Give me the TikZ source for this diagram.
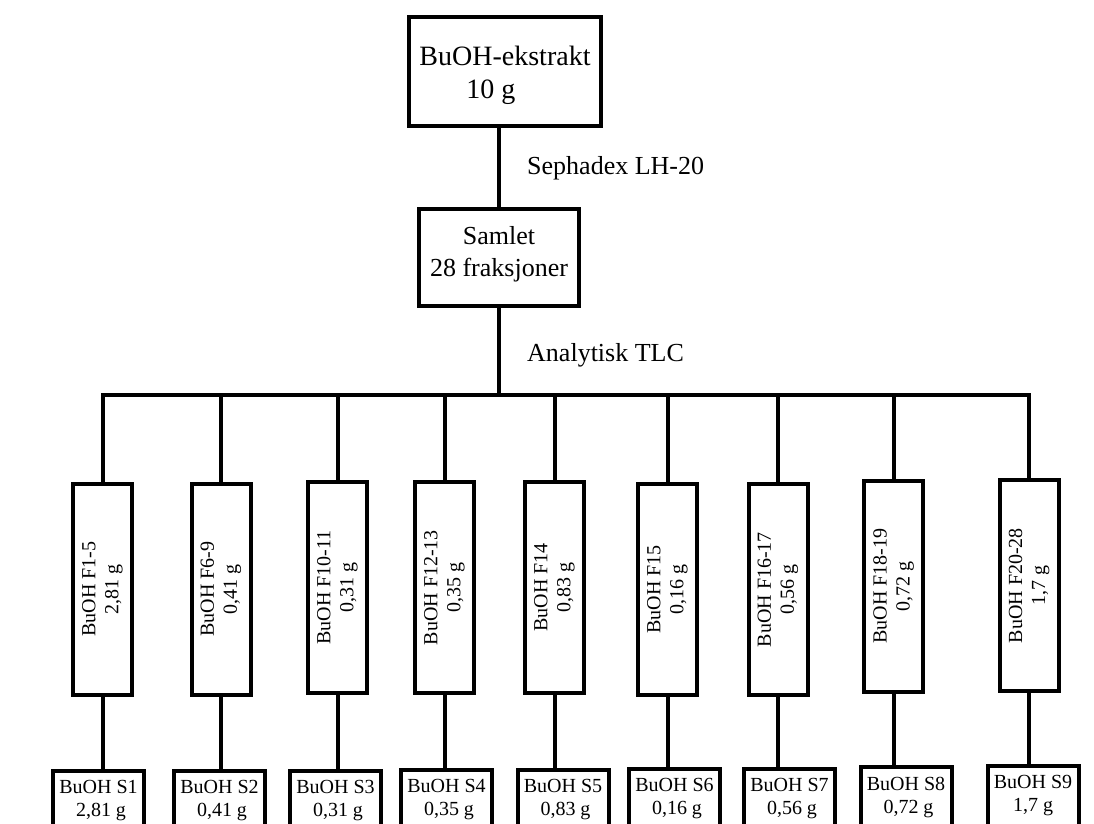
\documentclass[tikz,border=0pt]{standalone}
\usepackage{fontspec}
\setmainfont{Liberation Serif}
\begin{document}
\begin{tikzpicture}[x=1pt,y=-1pt,
  box/.style={draw, line width=4pt, inner sep=0pt, align=center},
  link/.style={line width=4pt},
  bigtext/.style={font=\fontsize{28}{33}\selectfont},
  midtext/.style={font=\fontsize{26}{32}\selectfont},
  smalltext/.style={font=\fontsize{20}{23}\selectfont},
  fracbox/.style={box, smalltext, rotate=90, minimum width=211pt, minimum height=59pt},
  subbox/.style={box, smalltext, minimum width=91pt, minimum height=60pt},
  steplabel/.style={midtext, anchor=west, inner sep=0pt},
]
\useasboundingbox (0,0) rectangle (1094,823);

% extract and pooled fractions
\node[box, bigtext, align=left, minimum width=192pt, minimum height=109pt] (ext) at (505,71.5)
  {\rule{0pt}{27pt}BuOH-ekstrakt\\\hspace*{47pt}10 g};
\node[box, midtext, minimum width=160pt, minimum height=97pt] (pool) at (499,257.5)
  {Samlet\\28 fraksjoner\rule[-12pt]{0pt}{0pt}};

\node[steplabel] (seph) at (527,168) {Sephadex LH-20};
\node[steplabel] (tlc) at (527,355) {Analytisk TLC};

% combined fractions (rotated boxes: east = top, west = bottom)
\node[fracbox] (f1) at (102.5,589)   {BuOH F1-5\\2,81 g};
\node[fracbox] (f2) at (221,589)     {BuOH F6-9\\0,41 g};
\node[fracbox] (f3) at (337.5,587.5) {BuOH F10-11\\0,31 g};
\node[fracbox] (f4) at (444.5,587.5) {BuOH F12-13\\0,35 g};
\node[fracbox] (f5) at (554.5,587.5) {BuOH F14\\0,83 g};
\node[fracbox] (f6) at (667.5,589.5) {BuOH F15\\0,16 g};
\node[fracbox] (f7) at (778,589.5)   {BuOH F16-17\\0,56 g};
\node[fracbox] (f8) at (893.5,586)   {BuOH F18-19\\0,72 g};
\node[fracbox] (f9) at (1029,585.5)  {BuOH F20-28\\1,7 g};

% samples
\node[subbox] (s1) at (98.5,801)  {BuOH S1\\\hspace*{5pt}2,81 g};
\node[subbox] (s2) at (219.5,801) {BuOH S2\\\hspace*{5pt}0,41 g};
\node[subbox] (s3) at (335.5,801) {BuOH S3\\\hspace*{5pt}0,31 g};
\node[subbox] (s4) at (446.5,800) {BuOH S4\\\hspace*{5pt}0,35 g};
\node[subbox] (s5) at (563,800)   {BuOH S5\\\hspace*{5pt}0,83 g};
\node[subbox] (s6) at (674.5,799) {BuOH S6\\\hspace*{5pt}0,16 g};
\node[subbox] (s7) at (789.5,799) {BuOH S7\\\hspace*{5pt}0,56 g};
\node[subbox] (s8) at (906,797)   {BuOH S8\\\hspace*{5pt}0,72 g};
\node[subbox] (s9) at (1033,796)  {BuOH S9\\1,7 g};

% connectors
\coordinate (bus) at (500,395);
\draw[link] (pool.north |- ext.south) -- (pool.north);
\draw[link] (pool.south) -- (pool.south |- bus);
\draw[link] (f1.east) -- (f1.east |- bus) -- (f9.east |- bus) -- (f9.east);
\foreach \i in {2,...,8} {
  \draw[link] (f\i.east) -- (f\i.east |- bus);
}
\foreach \i in {1,...,9} {
  \draw[link] (f\i.west) -- (f\i.west |- s\i.north);
}
\end{tikzpicture}
\end{document}
